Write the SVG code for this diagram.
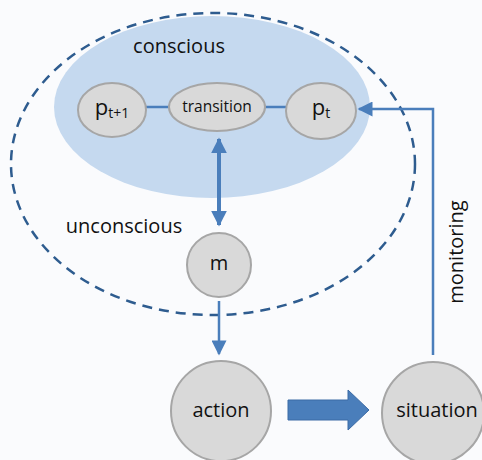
<svg xmlns="http://www.w3.org/2000/svg" width="482" height="460" viewBox="0 0 482 460">
<style>
text{font-family:"Open Sans","Liberation Sans",sans-serif;fill:#111}
.node{fill:#d9d9d9;stroke:#a6a6a6;stroke-width:2}
.lbl{font-size:20px;text-anchor:middle}
.conn{stroke:#4a7ebb;fill:none}
</style>
<defs>
<marker id="ah" viewBox="0 0 10 10" refX="9" refY="5" markerWidth="4" markerHeight="4" orient="auto-start-reverse" markerUnits="strokeWidth">
<path d="M0,0 L10,5 L0,10 Z" fill="#4a7ebb"/>
</marker>
<marker id="ah2" viewBox="0 0 10 10" refX="9" refY="5" markerWidth="6.2" markerHeight="6" orient="auto" markerUnits="strokeWidth">
<path d="M0,0 L10,5 L0,10 Z" fill="#4a7ebb"/>
</marker>
</defs>
<rect width="482" height="460" fill="#fafbfd"/>
<g id="conscious-region">
<ellipse cx="212" cy="107" rx="158" ry="91" fill="#c5d9ef"/>
<text x="179" y="53" font-size="20px" text-anchor="middle">conscious</text>
</g>
<g id="unconscious-region">
<ellipse cx="213" cy="164" rx="202" ry="151" fill="none" stroke="#2e5c8f" stroke-width="2.5" stroke-dasharray="10,7"/>
<text x="124" y="233" font-size="20px" text-anchor="middle">unconscious</text>
</g>
<g id="connectors">
<line class="conn" x1="146" y1="107" x2="170" y2="107" stroke-width="2.5"/>
<line class="conn" x1="265" y1="107" x2="287" y2="107" stroke-width="2.5"/>
<line class="conn" x1="219" y1="139" x2="219" y2="225" stroke-width="4" marker-start="url(#ah)" marker-end="url(#ah)"/>
<line class="conn" x1="219" y1="301" x2="219" y2="354" stroke-width="2.5" marker-end="url(#ah2)"/>
<polyline class="conn" points="433,355 433,109 359,109" stroke-width="2.5" marker-end="url(#ah2)"/>
<path d="M288,400 L348,400 L348,390 L369,410 L348,430 L348,420 L288,420 Z" fill="#4a7ebb" stroke="#3a6aa5" stroke-width="1"/>
<text transform="translate(463,252) rotate(-90)" font-size="20px" text-anchor="middle">monitoring</text>
</g>
<g id="p_t1">
<ellipse class="node" cx="112" cy="110" rx="34" ry="27"/>
<text x="112" y="115" font-size="22px" text-anchor="middle">p<tspan font-size="14px" dy="3">t+1</tspan></text>
</g>
<g id="transition">
<ellipse class="node" cx="217" cy="107" rx="48" ry="24"/>
<text x="217" y="112" font-size="15.5px" text-anchor="middle">transition</text>
</g>
<g id="p_t">
<ellipse class="node" cx="321" cy="111" rx="35" ry="28"/>
<text x="321" y="115" font-size="22px" text-anchor="middle">p<tspan font-size="14px" dy="3">t</tspan></text>
</g>
<g id="m">
<circle class="node" cx="219" cy="265" r="32"/>
<text class="lbl" x="219" y="270">m</text>
</g>
<g id="action">
<circle class="node" cx="221" cy="411" r="50"/>
<text class="lbl" x="221" y="417">action</text>
</g>
<g id="situation">
<circle class="node" cx="433" cy="413" r="51"/>
<text class="lbl" x="437" y="417">situation</text>
</g>
</svg>
